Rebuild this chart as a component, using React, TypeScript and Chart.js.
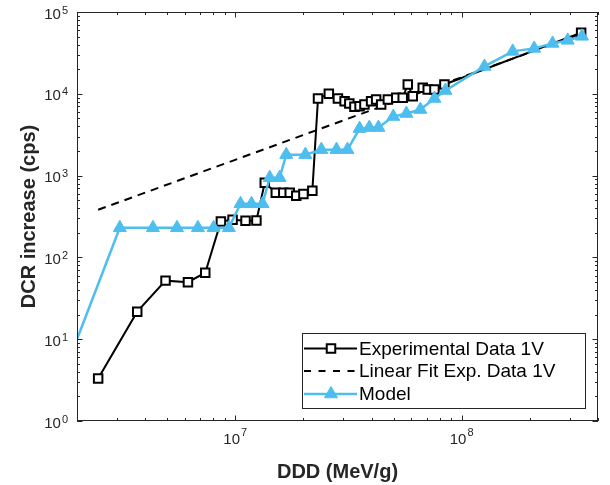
import React, { useEffect, useRef } from "react";
import { Chart, registerables } from "chart.js";

Chart.register(...registerables);

// ---- data ----
const expX = [2.48e6, 3.69e6, 4.92e6, 6.18e6, 7.37e6, 8.64e6, 9.73e6, 1.11e7, 1.24e7, 1.35e7, 1.51e7, 1.63e7, 1.74e7, 1.86e7, 2.0e7, 2.19e7, 2.32e7, 2.59e7, 2.84e7, 3.04e7, 3.19e7, 3.36e7, 3.54e7, 3.72e7, 3.98e7, 4.19e7, 4.41e7, 4.72e7, 5.14e7, 5.49e7, 5.78e7, 6.08e7, 6.73e7, 7.08e7, 7.58e7, 8.39e7, 3.37e8];
const expY = [3.3, 21.7, 52, 49.7, 65, 275, 288, 280, 283, 818, 617, 617, 617, 567, 595, 653, 8760, 10000, 8760, 8120, 7600, 6930, 7050, 7390, 8120, 8510, 7390, 8510, 8930, 8930, 13000, 9350, 11840, 11300, 11300, 13000, 55900];

const fitX = [2.48e6, 3.37e8];
const fitY = [382, 54300];

const modelX = [2e6, 3.09e6, 4.33e6, 5.53e6, 6.84e6, 8.02e6, 9.37e6, 1.055e7, 1.18e7, 1.32e7, 1.42e7, 1.57e7, 1.68e7, 2.04e7, 2.4e7, 2.8e7, 3.13e7, 3.54e7, 3.91e7, 4.29e7, 4.99e7, 5.7e7, 6.57e7, 7.58e7, 8.48e7, 1.26e8, 1.68e8, 2.09e8, 2.52e8, 2.94e8, 3.4e8];
const modelY = [10, 230, 230, 230, 230, 230, 230, 452, 452, 452, 943, 943, 1804, 1804, 2077, 2077, 2077, 3756, 3864, 3864, 5270, 5736, 6421, 8757, 10975, 21600, 33000, 35900, 41300, 45000, 50400];

const xTicks = [1e7, 1e8];
const yTicks = [1, 10, 100, 1000, 10000, 100000];
const xMin = 2e6;
const xMax = 4e8;
const yMin = 1;
const yMax = 1e5;

const seriesLabels = ["Experimental Data 1V", "Linear Fit Exp. Data 1V", "Model"];
const xTitle = "DDD (MeV/g)";
const yTitle = "DCR increase (cps)";

const AX = "#262626";
const BLUE = "#4DBEEE";
const FONT = '"Liberation Sans", Arial, Helvetica, sans-serif';

const toPts = (xs: number[], ys: number[]) => xs.map((x, i) => ({ x, y: ys[i] }));

function drawSquare(ctx: CanvasRenderingContext2D, x: number, y: number) {
  const s = 8.5;
  ctx.save();
  ctx.fillStyle = "#fff";
  ctx.strokeStyle = "#000";
  ctx.lineWidth = 2;
  ctx.beginPath();
  ctx.rect(x - s / 2, y - s / 2, s, s);
  ctx.fill();
  ctx.stroke();
  ctx.restore();
}

function drawTri(ctx: CanvasRenderingContext2D, x: number, y: number, r: number) {
  ctx.save();
  ctx.fillStyle = BLUE;
  ctx.strokeStyle = BLUE;
  ctx.lineWidth = 1;
  ctx.beginPath();
  ctx.moveTo(x, y - r);
  ctx.lineTo(x + r * Math.sin((2 * Math.PI) / 3), y + r / 2);
  ctx.lineTo(x - r * Math.sin((2 * Math.PI) / 3), y + r / 2);
  ctx.closePath();
  ctx.fill();
  ctx.stroke();
  ctx.restore();
}

const decorPlugin = {
  id: "decor",
  afterDraw(chart: any) {
    const { ctx, chartArea: a } = chart;
    const xs = chart.scales.x;
    const ys = chart.scales.y;
    ctx.save();

    // ticks (inward, mirrored)
    ctx.strokeStyle = AX;
    ctx.lineWidth = 1;
    const majorLen = 5.5;
    const minorLen = 3;
    for (let d = Math.floor(Math.log10(xMin)); d <= Math.ceil(Math.log10(xMax)); d++) {
      for (let k = 1; k <= 9; k++) {
        const v = k * Math.pow(10, d);
        if (v < xMin || v > xMax) continue;
        const px = Math.round(xs.getPixelForValue(v)) + 0.5;
        const len = k === 1 ? majorLen : minorLen;
        ctx.beginPath();
        ctx.moveTo(px, a.bottom);
        ctx.lineTo(px, a.bottom - len);
        ctx.moveTo(px, a.top);
        ctx.lineTo(px, a.top + len);
        ctx.stroke();
      }
    }
    for (let d = Math.floor(Math.log10(yMin)); d <= Math.ceil(Math.log10(yMax)); d++) {
      for (let k = 1; k <= 9; k++) {
        const v = k * Math.pow(10, d);
        if (v < yMin || v > yMax) continue;
        const py = Math.round(ys.getPixelForValue(v)) + 0.5;
        const len = k === 1 ? majorLen : minorLen;
        ctx.beginPath();
        ctx.moveTo(a.left, py);
        ctx.lineTo(a.left + len, py);
        ctx.moveTo(a.right, py);
        ctx.lineTo(a.right - len, py);
        ctx.stroke();
      }
    }

    // box
    ctx.strokeRect(a.left + 0.5, a.top + 0.5, a.right - a.left - 1, a.bottom - a.top - 1);

    // tick labels
    ctx.fillStyle = AX;
    const baseFont = `15px ${FONT}`;
    const expFont = `11px ${FONT}`;
    ctx.textBaseline = "alphabetic";
    for (const v of xTicks) {
      const px = xs.getPixelForValue(v);
      const e = String(Math.round(Math.log10(v)));
      ctx.font = baseFont;
      const w1 = ctx.measureText("10").width;
      ctx.font = expFont;
      const w2 = ctx.measureText(e).width;
      const start = px - (w1 + 1 + w2) / 2;
      ctx.textAlign = "left";
      ctx.font = baseFont;
      ctx.fillText("10", start, a.bottom + 23);
      ctx.font = expFont;
      ctx.fillText(e, start + w1 + 1, a.bottom + 15);
    }
    for (const v of yTicks) {
      const py = ys.getPixelForValue(v);
      const e = String(Math.round(Math.log10(v)));
      ctx.font = expFont;
      const w2 = ctx.measureText(e).width;
      const right = a.left - 9;
      ctx.textAlign = "left";
      ctx.fillText(e, right - w2, py + 1.5);
      ctx.font = baseFont;
      ctx.textAlign = "right";
      ctx.fillText("10", right - w2 - 1, py + 6.5);
    }

    // axis titles
    ctx.font = `bold 20px ${FONT}`;
    ctx.textAlign = "center";
    ctx.textBaseline = "alphabetic";
    ctx.fillText(xTitle, (a.left + a.right) / 2, 478);
    ctx.save();
    ctx.translate(35, (a.top + a.bottom) / 2);
    ctx.rotate(-Math.PI / 2);
    ctx.fillText(yTitle, 0, 0);
    ctx.restore();

    // legend
    const lx = 302.5, ly = 333.5, lw = 283, lh = 75;
    ctx.fillStyle = "#fff";
    ctx.fillRect(lx, ly, lw, lh);
    ctx.strokeStyle = AX;
    ctx.lineWidth = 1;
    ctx.strokeRect(lx, ly, lw, lh);
    const rows = [348.5, 371, 394];
    const x0 = 304, x1 = 357, xm = 331;
    // row 1
    ctx.strokeStyle = "#000";
    ctx.lineWidth = 2;
    ctx.beginPath();
    ctx.moveTo(x0, rows[0]);
    ctx.lineTo(x1, rows[0]);
    ctx.stroke();
    drawSquare(ctx, xm, rows[0]);
    // row 2
    ctx.setLineDash([7, 7.5]);
    ctx.beginPath();
    ctx.moveTo(x0, rows[1]);
    ctx.lineTo(x1, rows[1]);
    ctx.stroke();
    ctx.setLineDash([]);
    // row 3
    ctx.strokeStyle = BLUE;
    ctx.lineWidth = 2.5;
    ctx.beginPath();
    ctx.moveTo(x0, rows[2]);
    ctx.lineTo(x1, rows[2]);
    ctx.stroke();
    drawTri(ctx, xm, rows[2], 7.5);

    ctx.fillStyle = "#000";
    ctx.font = `19px ${FONT}`;
    ctx.textAlign = "left";
    ctx.textBaseline = "middle";
    seriesLabels.forEach((t, i) => ctx.fillText(t, 359, rows[i] + 1));

    ctx.restore();
  },
};

export default function App() {
  const ref = useRef<HTMLCanvasElement | null>(null);
  useEffect(() => {
    if (!ref.current) return;
    const chart = new Chart(ref.current, {
      type: "scatter",
      data: {
        datasets: [
          {
            label: seriesLabels[0],
            data: toPts(expX, expY),
            showLine: true,
            borderColor: "#000",
            borderWidth: 2,
            pointStyle: "rect",
            pointRadius: 6,
            pointBorderWidth: 2,
            pointBackgroundColor: "#fff",
            pointBorderColor: "#000",
            order: 1,
          },
          {
            label: seriesLabels[1],
            data: toPts(fitX, fitY),
            showLine: true,
            borderColor: "#000",
            borderWidth: 2,
            borderDash: [8, 6],
            pointRadius: 0,
            order: 2,
          },
          {
            label: seriesLabels[2],
            data: toPts(modelX, modelY),
            showLine: true,
            borderColor: BLUE,
            borderWidth: 2.5,
            pointStyle: "triangle",
            pointRadius: modelX.map((_, i) => (i === 0 ? 0 : 7.5)),
            pointBorderWidth: 1,
            pointBackgroundColor: BLUE,
            pointBorderColor: BLUE,
            order: 0,
          },
        ],
      },
      options: {
        animation: false,
        responsive: false,
        devicePixelRatio: 1,
        layout: { padding: { left: 77, right: 12, top: 12, bottom: 64 } },
        scales: {
          x: { type: "logarithmic", min: xMin, max: xMax, display: false },
          y: { type: "logarithmic", min: yMin, max: yMax, display: false },
        },
        plugins: { legend: { display: false }, tooltip: { enabled: false } },
      },
      plugins: [decorPlugin],
    });
    return () => chart.destroy();
  }, []);
  return (
    <div style={{ position: "absolute", left: 0, top: 0, width: 610, height: 485, background: "#fff" }}>
      <canvas ref={ref} width={610} height={485} />
    </div>
  );
}
